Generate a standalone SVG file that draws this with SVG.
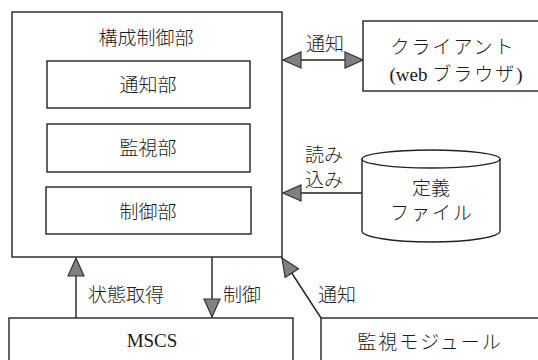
<svg xmlns="http://www.w3.org/2000/svg" width="538" height="360" viewBox="0 0 538 360">
<style>
.box{fill:#fff;stroke:#222;stroke-width:1.4}
.ln{fill:none;stroke:#222;stroke-width:1.4}
text{font-family:"Noto Sans CJK JP","Liberation Serif",sans-serif;font-size:19px;font-weight:300;fill:#1a1a1a}
.lat{font-family:"Liberation Serif",serif;font-weight:400}
.c{text-anchor:middle}
.sp{letter-spacing:2px}
</style>
<defs>
<marker id="ah" viewBox="0 0 20 18" refX="19" refY="9" markerWidth="20" markerHeight="18" markerUnits="userSpaceOnUse" orient="auto-start-reverse">
<path d="M1,1 L19,9 L1,17 Z" fill="#808080" stroke="#333" stroke-width="1.2"/>
</marker>
</defs>
<rect width="538" height="360" fill="#fff"/>
<g id="kousei">
<rect class="box" x="12" y="12" width="270" height="245"/>
<text class="c" x="146" y="45">構成制御部</text>
</g>
<g id="tsuchibu">
<rect class="box" x="47" y="61" width="203" height="47"/>
<text class="c" x="148" y="92">通知部</text>
</g>
<g id="kanshibu">
<rect class="box" x="47" y="124" width="203" height="48"/>
<text class="c" x="148" y="155">監視部</text>
</g>
<g id="seigyobu">
<rect class="box" x="46" y="187" width="205" height="47"/>
<text class="c" x="148" y="219">制御部</text>
</g>
<g id="client">
<rect class="box" x="363" y="21" width="200" height="70"/>
<text class="c sp" x="453" y="54">クライアント</text>
<text class="c" x="456" y="81"><tspan class="lat">(web </tspan><tspan class="sp">ブラウザ</tspan><tspan class="lat">)</tspan></text>
</g>
<g id="teigi">
<path class="box" d="M362,159 A69,9 0 0 1 500,159 L500,231 A69,11 0 0 1 362,231 Z"/>
<path class="ln" d="M362,159 A69,9 0 0 0 500,159"/>
<text class="c" x="431" y="195">定義</text>
<text class="c sp" x="432" y="220">ファイル</text>
</g>
<g id="mscs">
<rect class="box" x="9" y="318" width="284" height="60"/>
<text class="c lat" x="152" y="347">MSCS</text>
</g>
<g id="kanshi-module">
<rect class="box" x="321" y="318" width="240" height="60"/>
<text class="c sp" x="430" y="349">監視モジュール</text>
</g>
<g id="connectors">
<line class="ln" x1="283" y1="60" x2="363" y2="60" marker-start="url(#ah)" marker-end="url(#ah)"/>
<line class="ln" x1="362" y1="193" x2="283" y2="193" marker-end="url(#ah)"/>
<line class="ln" x1="76" y1="318" x2="76" y2="258" marker-end="url(#ah)"/>
<line class="ln" x1="212" y1="257" x2="212" y2="317" marker-end="url(#ah)"/>
<line class="ln" x1="321" y1="318" x2="282" y2="258" marker-end="url(#ah)"/>
</g>
<g id="labels">
<text x="306" y="51">通知</text>
<text x="305" y="162">読み</text>
<text x="305" y="187">込み</text>
<text x="88" y="302">状態取得</text>
<text x="223" y="302">制御</text>
<text x="318" y="302">通知</text>
</g>
</svg>
